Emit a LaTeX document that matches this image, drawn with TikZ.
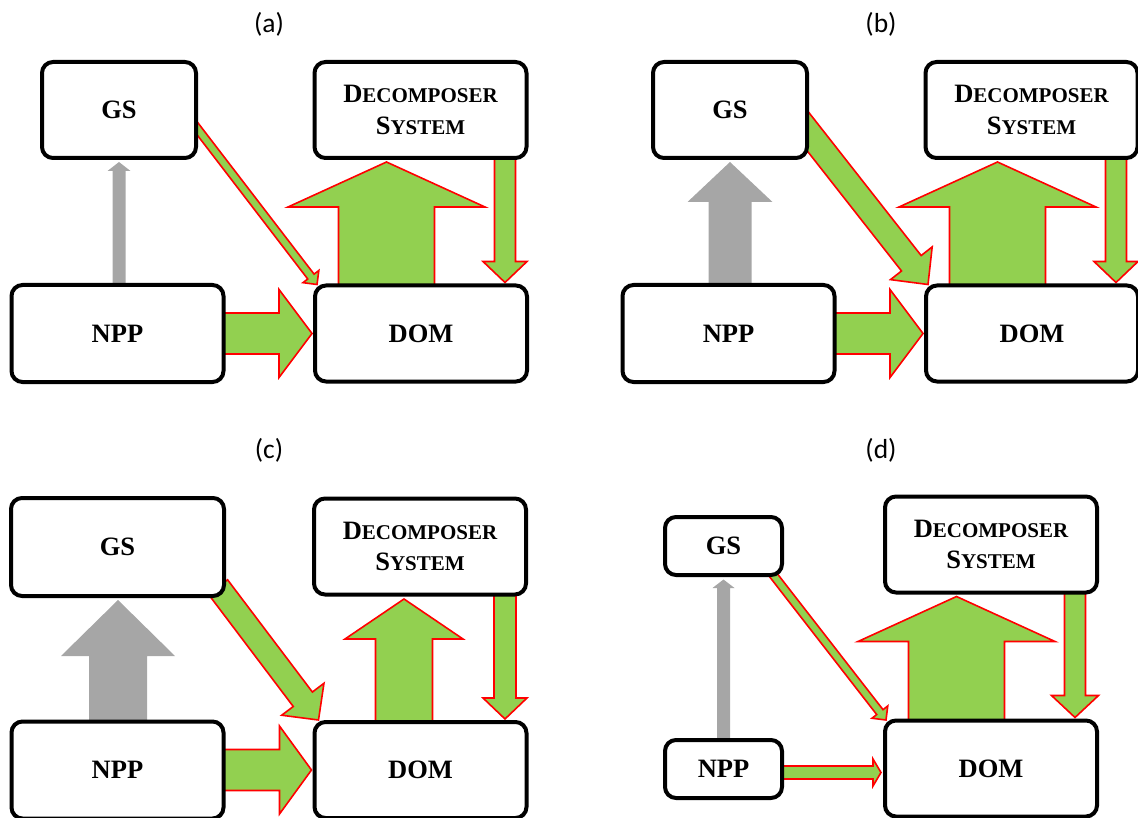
\documentclass[tikz,border=0pt]{standalone}
\usepackage{fontspec}
\setmainfont{Liberation Serif}
\newfontfamily\labelfont{Carlito}
\usetikzlibrary{calc}
\pgfdeclarelayer{flows}
\pgfsetlayers{flows,main}

\definecolor{flowgreen}{HTML}{92D050}
\definecolor{flowgray}{HTML}{A6A6A6}
\definecolor{flowred}{HTML}{FF0000}

% smaller capitals for the second part of a word
\newcommand\lowcaps[1]{{\fontsize{21}{31.5}\selectfont #1}}

% block arrow: [style]{tail}{tip}{half shaft width}{half head width}{head length}
\newcommand\blockarrow[6][]{%
  \coordinate (#2-#3-base) at ($(#3)!#6!(#2)$);
  \path[#1] ($(#2)!#4!90:(#3)$) -- ($(#2-#3-base)!#4!90:(#3)$)
    -- ($(#2-#3-base)!#5!90:(#3)$) -- (#3)
    -- ($(#2-#3-base)!#5!-90:(#3)$) -- ($(#2-#3-base)!#4!-90:(#3)$)
    -- ($(#2)!#4!-90:(#3)$) -- cycle;
}

\tikzset{
  unitbox/.style={draw=black, line width=4pt, rounded corners=11pt, fill=white,
    inner sep=0pt, align=center, font=\fontsize{26.5}{31.5}\selectfont\bfseries},
  widebox/.style={unitbox, minimum width=212pt, minimum height=96pt},
  greenflow/.style={fill=flowgreen, draw=flowred, line width=1.6pt, line join=miter, miter limit=10},
  grayflow/.style={fill=flowgray},
  panellabel/.style={font=\labelfont\fontsize{27.5}{27.5}\selectfont, inner sep=0pt}
}

\begin{document}
\begin{tikzpicture}[x=1pt, y=-1pt]
\useasboundingbox (0,0) rectangle (1138,818);

% ---------------- panel (a) ----------------
\node[panellabel] (a-lab) at (269,24) {(a)};
\node[unitbox, minimum width=154pt, minimum height=96pt] (a-gs) at (119,110) {GS};
\node[widebox] (a-dec) at (420.5,110) {D\lowcaps{ECOMPOSER}\\S\lowcaps{YSTEM}};
\node[widebox, minimum height=97pt] (a-npp) at (117.5,333.5) {NPP};
\node[widebox] (a-dom) at (421,333.5) {DOM};
\begin{pgfonlayer}{flows}
  \coordinate (a-g1) at ($(a-gs.south)+(0,2)$);
  \coordinate (a-g0) at (a-g1 |- a-npp.center);
  \blockarrow[grayflow]{a-g0}{a-g1}{6.5pt}{11.5pt}{9pt}
  \coordinate (a-d0) at ($(a-gs.center)+(51,-17)$);
  \coordinate (a-d1) at ($(a-dom.north west)+(4,1)$);
  \blockarrow[greenflow]{a-d0}{a-d1}{4pt}{10pt}{10pt}
  \coordinate (a-u1) at ($(a-dec.south)+(-34,2)$);
  \coordinate (a-u0) at (a-u1 |- a-dom.center);
  \blockarrow[greenflow]{a-u0}{a-u1}{48pt}{98.5pt}{45pt}
  \coordinate (a-r0) at ($(a-dec.south)+(84.5,-20)$);
  \coordinate (a-r1) at ($(a-r0 |- a-dom.north)+(0,-1)$);
  \blockarrow[greenflow]{a-r0}{a-r1}{10.5pt}{22pt}{21pt}
  \coordinate (a-h0) at (a-npp.center);
  \coordinate (a-h1) at ($(a-dom.west)+(-1,0)$);
  \blockarrow[greenflow]{a-h0}{a-h1}{20.5pt}{44pt}{33pt}
\end{pgfonlayer}

% ---------------- panel (b) ----------------
\begin{scope}[shift={(611,0)}]
\node[panellabel] (b-lab) at (270,24) {(b)};
\node[unitbox, minimum width=154pt, minimum height=96pt] (b-gs) at (119,110) {GS};
\node[widebox] (b-dec) at (420.5,110) {D\lowcaps{ECOMPOSER}\\S\lowcaps{YSTEM}};
\node[widebox, minimum height=97pt] (b-npp) at (117.5,333.5) {NPP};
\node[widebox] (b-dom) at (421,333.5) {DOM};
\begin{pgfonlayer}{flows}
  \coordinate (b-g1) at ($(b-gs.south)+(0,2)$);
  \coordinate (b-g0) at (b-g1 |- b-npp.center);
  \blockarrow[grayflow]{b-g0}{b-g1}{21.5pt}{42.5pt}{40pt}
  \coordinate (b-d0) at ($(b-gs.center)+(50,-14)$);
  \coordinate (b-d1) at ($(b-dom.north west)+(4,1)$);
  \blockarrow[greenflow]{b-d0}{b-d1}{12.5pt}{26.5pt}{27pt}
  \coordinate (b-u1) at ($(b-dec.south)+(-34,2)$);
  \coordinate (b-u0) at (b-u1 |- b-dom.center);
  \blockarrow[greenflow]{b-u0}{b-u1}{48pt}{98.5pt}{45pt}
  \coordinate (b-r0) at ($(b-dec.south)+(84.5,-20)$);
  \coordinate (b-r1) at ($(b-r0 |- b-dom.north)+(0,-1)$);
  \blockarrow[greenflow]{b-r0}{b-r1}{10.5pt}{22pt}{21pt}
  \coordinate (b-h0) at (b-npp.center);
  \coordinate (b-h1) at ($(b-dom.west)+(-1,0)$);
  \blockarrow[greenflow]{b-h0}{b-h1}{20.5pt}{44pt}{33pt}
\end{pgfonlayer}
\end{scope}

% ---------------- panel (c) ----------------
\begin{scope}[shift={(0,436.5)}]
\node[panellabel] (c-lab) at (269,13.5) {(c)};
\node[widebox, minimum width=213pt, minimum height=98pt] (c-gs) at (117.5,110.5) {GS};
\node[widebox] (c-dec) at (420,110) {D\lowcaps{ECOMPOSER}\\S\lowcaps{YSTEM}};
\node[widebox, minimum height=97pt] (c-npp) at (117.5,333.5) {NPP};
\node[widebox] (c-dom) at (420.5,333.5) {DOM};
\begin{pgfonlayer}{flows}
  \coordinate (c-g1) at ($(c-gs.south)+(0.5,2)$);
  \coordinate (c-g0) at (c-g1 |- c-npp.center);
  \blockarrow[grayflow]{c-g0}{c-g1}{29pt}{57pt}{56pt}
  \coordinate (c-d0) at ($(c-gs.south east)+(-8,-11)$);
  \coordinate (c-d1) at ($(c-dom.north west)+(6,0)$);
  \blockarrow[greenflow]{c-d0}{c-d1}{12pt}{26.5pt}{26pt}
  \coordinate (c-u1) at ($(c-dec.south)+(-16,2.5)$);
  \coordinate (c-u0) at (c-u1 |- c-dom.center);
  \blockarrow[greenflow]{c-u0}{c-u1}{28.5pt}{59pt}{40pt}
  \coordinate (c-r0) at ($(c-dec.south)+(85,-20)$);
  \coordinate (c-r1) at ($(c-r0 |- c-dom.north)+(0,-1)$);
  \blockarrow[greenflow]{c-r0}{c-r1}{11pt}{22pt}{21pt}
  \coordinate (c-h0) at (c-npp.center);
  \coordinate (c-h1) at ($(c-dom.west)+(-1,0)$);
  \blockarrow[greenflow]{c-h0}{c-h1}{20.5pt}{44pt}{32pt}
\end{pgfonlayer}
\end{scope}

% ---------------- panel (d) ----------------
\begin{scope}[shift={(570,434.5)}]
\node[panellabel] (d-lab) at (311,15.5) {(d)};
\node[unitbox, minimum width=117pt, minimum height=58pt] (d-gs) at (153.5,111.5) {GS};
\node[widebox] (d-dec) at (421,110) {D\lowcaps{ECOMPOSER}\\S\lowcaps{YSTEM}};
\node[unitbox, minimum width=117pt, minimum height=58pt] (d-npp) at (153.5,334.5) {NPP};
\node[widebox] (d-dom) at (421,334) {DOM};
\begin{pgfonlayer}{flows}
  \coordinate (d-g1) at ($(d-gs.south)+(0,2.5)$);
  \coordinate (d-g0) at (d-g1 |- d-npp.center);
  \blockarrow[grayflow]{d-g0}{d-g1}{6.5pt}{11pt}{8.5pt}
  \coordinate (d-d0) at ($(d-gs.center)+(38.5,14.5)$);
  \coordinate (d-d1) at ($(d-dom.north west)+(3,1.5)$);
  \blockarrow[greenflow]{d-d0}{d-d1}{4pt}{10pt}{10pt}
  \coordinate (d-u1) at ($(d-dec.south)+(-34.5,2)$);
  \coordinate (d-u0) at (d-u1 |- d-dom.center);
  \blockarrow[greenflow]{d-u0}{d-u1}{48pt}{98.5pt}{45pt}
  \coordinate (d-r0) at ($(d-dec.south)+(84,-20)$);
  \coordinate (d-r1) at ($(d-r0 |- d-dom.north)+(0,-1)$);
  \blockarrow[greenflow]{d-r0}{d-r1}{10.5pt}{23.5pt}{22pt}
  \coordinate (d-h0) at ($(d-npp.center)+(0,3.5)$);
  \coordinate (d-h1) at ($(d-h0 -| d-dom.west)+(-2,0)$);
  \blockarrow[greenflow]{d-h0}{d-h1}{6.5pt}{13.5pt}{8pt}
\end{pgfonlayer}
\end{scope}
\end{tikzpicture}
\end{document}
